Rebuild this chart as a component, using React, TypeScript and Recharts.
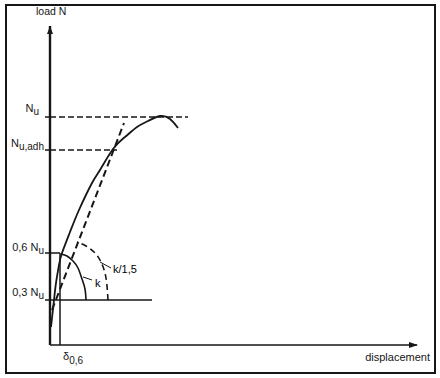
import React from "react";
import {
  ComposedChart,
  Line,
  ReferenceDot,
  ReferenceLine,
  Scatter,
  XAxis,
  YAxis,
} from "recharts";

const loadCurve = [
  { x: 1, y: 18 },
  { x: 2, y: 27 },
  { x: 4, y: 45 },
  { x: 6, y: 62 },
  { x: 9, y: 80 },
  { x: 12, y: 92 },
  { x: 20, y: 113 },
  { x: 29, y: 135 },
  { x: 42, y: 162 },
  { x: 50, y: 175 },
  { x: 63, y: 196 },
  { x: 75, y: 208 },
  { x: 87, y: 218 },
  { x: 98, y: 224 },
  { x: 110, y: 229 },
  { x: 120, y: 226 },
  { x: 128, y: 217 },
];

const secantLine = [
  { x: 2, y: 35 },
  { x: 74, y: 222 },
];

const arcK = [
  { x: 36, y: 45 },
  { x: 35, y: 56 },
  { x: 32, y: 66 },
  { x: 28, y: 77 },
  { x: 23, y: 84 },
  { x: 17, y: 89 },
  { x: 11, y: 91 },
];

const arcK15 = [
  { x: 58, y: 45 },
  { x: 57, y: 59 },
  { x: 55, y: 72 },
  { x: 51, y: 83 },
  { x: 45, y: 92 },
  { x: 36, y: 99 },
  { x: 27, y: 103 },
];

const leaderK = [
  { x: 33, y: 68 },
  { x: 42, y: 65 },
];

const leaderK15 = [
  { x: 50, y: 83 },
  { x: 61, y: 77 },
];

const notes = [
  { x: 45, y: 58, text: "k" },
  { x: 63, y: 72, text: "k/1,5" },
];

const loadNu = 228;
const loadNuAdh = 195;
const load06 = 92;
const load03 = 45;
const delta06 = 10;

const yTicks = [load03, load06, loadNuAdh, loadNu];
const yTickMain = ["0,3 N", "0,6 N", "N", "N"];
const yTickSub = ["u", "u", "u,adh", "u"];

const xMax = 367;
const yMax = 319;
const arrowPoints = [
  { x: 0, y: yMax, dir: "up" },
  { x: xMax, y: 0, dir: "right" },
];

const font = "'Liberation Sans', Arial, sans-serif";
const ink = "#161616";

const tickShift: Record<number, { right: number; dy: number }> = {
  228: { right: 39, dy: -5 },
  195: { right: 44, dy: -3 },
  92: { right: 44, dy: -2 },
  45: { right: 44, dy: -4 },
};

function LoadTick(props: any) {
  const v = props.payload.value;
  const i = yTicks.indexOf(v);
  const s = tickShift[v];
  return (
    <text
      x={s.right}
      y={props.y + s.dy}
      textAnchor="end"
      fontFamily={font}
      fontSize={11}
      style={{ fill: ink }}
    >
      {yTickMain[i]}
      <tspan fontSize={10} dy={3}>
        {yTickSub[i]}
      </tspan>
    </text>
  );
}

function DeltaTick(props: any) {
  return (
    <text x={props.x + 3} y={360} fontFamily={font} fontSize={11} style={{ fill: ink }}>
      δ
      <tspan fontSize={10} dy={4}>
        0,6
      </tspan>
    </text>
  );
}

const renderArrow = (props: any) => {
  const { cx, cy, payload } = props;
  if (payload.dir === "up") {
    return <path d={`M${cx},${cy} L${cx - 3},${cy + 8} L${cx + 3},${cy + 8} Z`} style={{ fill: ink }} />;
  }
  return <path d={`M${cx + 1},${cy} L${cx - 8},${cy - 3} L${cx - 8},${cy + 3} Z`} style={{ fill: ink }} />;
};

export default function App() {
  return (
    <div style={{ position: "absolute", left: 0, top: 0, width: 440, height: 378, background: "#fff" }}>
      <div
        style={{
          position: "absolute",
          left: 5,
          top: 4,
          width: 427,
          height: 366,
          border: `2px solid ${ink}`,
        }}
      />
      <div style={{ position: "absolute", left: 0, top: 0 }}>
        <ComposedChart width={440} height={378} margin={{ top: 26, right: 23, bottom: 0, left: 0 }}>
          <XAxis
            type="number"
            dataKey="x"
            domain={[0, xMax]}
            ticks={[delta06]}
            tick={<DeltaTick />}
            tickLine={false}
            height={33}
            axisLine={{ stroke: ink, strokeWidth: 1.6 }}
            label={{
              content: (p: any) => (
                <text
                  x={p.viewBox.x + p.viewBox.width + 13}
                  y={p.viewBox.y + 16}
                  textAnchor="end"
                  fontFamily={font}
                  fontSize={11}
                  style={{ fill: ink }}
                >
                  displacement
                </text>
              ),
            }}
          />
          <YAxis
            type="number"
            dataKey="y"
            domain={[0, yMax]}
            ticks={yTicks}
            tick={<LoadTick />}
            tickSize={5}
            tickLine={{ stroke: ink, strokeWidth: 1.5 }}
            width={50}
            axisLine={{ stroke: ink, strokeWidth: 2.4 }}
            label={{
              content: (p: any) => (
                <text
                  x={p.viewBox.x + p.viewBox.width - 14}
                  y={p.viewBox.y - 11}
                  fontFamily={font}
                  fontSize={10.5}
                  style={{ fill: ink }}
                >
                  load N
                </text>
              ),
            }}
          />

          <ReferenceLine
            segment={[{ x: 0, y: loadNu }, { x: 138, y: loadNu }]}
            stroke={ink}
            strokeWidth={1.5}
            strokeDasharray="6 3"
          />
          <ReferenceLine
            segment={[{ x: 0, y: loadNuAdh }, { x: 67, y: loadNuAdh }]}
            stroke={ink}
            strokeWidth={1.5}
            strokeDasharray="6 3"
          />
          <ReferenceLine segment={[{ x: 0, y: load06 }, { x: delta06, y: load06 }]} stroke={ink} strokeWidth={1.5} />
          <ReferenceLine segment={[{ x: 0, y: load03 }, { x: 102, y: load03 }]} stroke={ink} strokeWidth={1.5} />
          <ReferenceLine segment={[{ x: delta06, y: 0 }, { x: delta06, y: load06 }]} stroke={ink} strokeWidth={1.5} />

          <Line data={secantLine} dataKey="y" type="linear" stroke={ink} strokeWidth={2} strokeDasharray="7 4" dot={false} isAnimationActive={false} />
          <Line data={loadCurve} dataKey="y" type="natural" stroke={ink} strokeWidth={1.8} dot={false} isAnimationActive={false} />
          <Line data={arcK} dataKey="y" type="natural" stroke={ink} strokeWidth={1.6} dot={false} isAnimationActive={false} />
          <Line data={arcK15} dataKey="y" type="natural" stroke={ink} strokeWidth={1.6} strokeDasharray="6 4" dot={false} isAnimationActive={false} />
          <Line data={leaderK} dataKey="y" type="linear" stroke={ink} strokeWidth={1} dot={false} isAnimationActive={false} />
          <Line data={leaderK15} dataKey="y" type="linear" stroke={ink} strokeWidth={1} dot={false} isAnimationActive={false} />

          {notes.map((n) => (
            <ReferenceDot
              key={n.text}
              x={n.x}
              y={n.y}
              r={0}
              shape={(p: any) => (
                <text x={p.cx} y={p.cy} fontFamily={font} fontSize={11} fill="#000" stroke="none">
                  {n.text}
                </text>
              )}
            />
          ))}
          <Scatter data={arrowPoints} dataKey="y" shape={renderArrow} isAnimationActive={false} />
        </ComposedChart>
      </div>
    </div>
  );
}
